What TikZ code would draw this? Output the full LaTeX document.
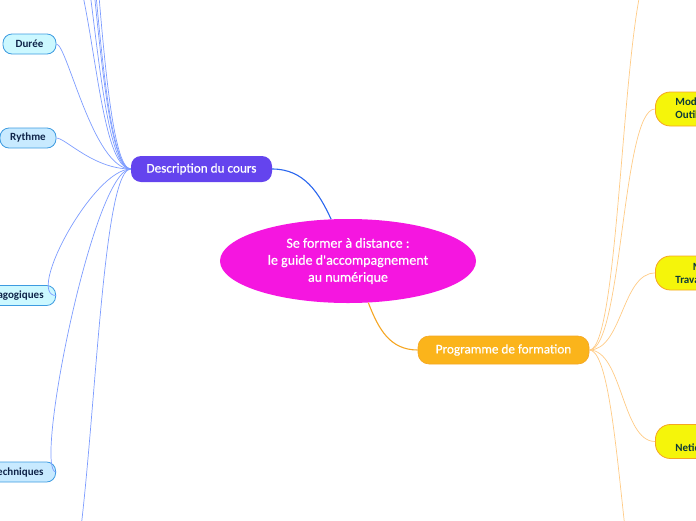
\documentclass[tikz,border=0pt]{standalone}
\usepackage{fontspec}
\setmainfont{Carlito}
\newfontfamily\medfont{Carlito}[FakeBold=0.5]
\usetikzlibrary{shapes.geometric}
\definecolor{cMag}{HTML}{F516E0}
\definecolor{cPur}{HTML}{6444EE}
\definecolor{cOrg}{HTML}{FBB41B}
\definecolor{cOrgB}{HTML}{F5A623}
\definecolor{cYel}{HTML}{F5F50A}
\definecolor{cCyan}{HTML}{CCF8FF}
\definecolor{cSky}{HTML}{C8EAFF}
\definecolor{cBord}{HTML}{3D9BE0}
\definecolor{cNavy}{HTML}{10254A}
\definecolor{cDark}{HTML}{0D3A3A}
\definecolor{cLB}{HTML}{7D9CFF}
\definecolor{cBlue}{HTML}{2A66EE}
\definecolor{cLO}{HTML}{FFCB85}
\begin{document}
\begin{tikzpicture}[x=1pt,y=-1pt,
  mainnode/.style={ellipse, fill=cMag, text=white, minimum width=256pt, minimum height=84pt, inner sep=0pt, align=center, font=\medfont\fontsize{14}{17}\selectfont},
  topbox/.style={rounded corners=10pt, text=white, inner sep=0pt, font=\medfont\fontsize{13.2}{15}\selectfont},
  leafbox/.style={draw=cBord, line width=0.8pt, rounded corners=9pt, minimum height=20pt, inner ysep=0pt, inner xsep=12pt, text=cNavy, font=\bfseries\fontsize{11}{12}\selectfont},
  ybox/.style={fill=cYel, draw=cOrgB, line width=0.8pt, rounded corners=15pt, minimum height=34pt, inner ysep=0pt, inner xsep=20pt, anchor=west, text=cDark, font=\bfseries\fontsize{11}{13}\selectfont},
  lk/.style={draw=cLB, line width=0.7pt},
  ok/.style={draw=cLO, line width=0.7pt}]
\useasboundingbox (0,0) rectangle (696,520);
\clip (0,0) rectangle (696,520);

% nodes
\node[mainnode] (main) at (348,261) {Se former à distance :\\le guide d'accompagnement\\au numérique};
\node[topbox, fill=cPur, minimum width=141pt, minimum height=26pt] (desc) at (201.5,169) {Description du cours};
\node[topbox, fill=cOrg, draw=cOrgB, line width=0.6pt, minimum width=171pt, minimum height=28pt, rounded corners=11pt] (prog) at (503.5,350) {Programme de formation};

\node[leafbox, fill=cCyan, minimum width=53pt, inner xsep=0pt] (duree) at (29.5,44) {Durée};
\node[leafbox, fill=cSky, minimum width=56pt, inner xsep=0pt] (rythme) at (28,138) {Rythme};
\node[leafbox, fill=cCyan, anchor=east] (ped) at (56,295.5) {Modalités pédagogiques};
\node[leafbox, fill=cSky, anchor=east] (tech) at (56,472) {Prérequis techniques};

\node[ybox, align=left] (mod) at (655,109) {Module 1 :\\Outils numériques};
\node[ybox, align=center] (trav) at (655,273) {Module 2 :\\Travail collaboratif};
\node[ybox, align=center] (neti) at (655,441.5) {Module 3 :\\Netiquette et communication};

% off-canvas ends
\coordinate (u1) at (56,-60);
\coordinate (u2) at (56,-130);
\coordinate (u3) at (56,-200);
\coordinate (u4) at (56,-235);
\coordinate (u5) at (56,-320);
\coordinate (d1) at (56,620);
\coordinate (r1) at (655,-40);
\coordinate (r2) at (655,654);

% main connectors
\draw[cBlue, line width=1.1pt] (desc.east) .. controls +(32,0) and +(-12,-26) .. (main.112);
\draw[cOrgB, line width=1.1pt] (main.-64) .. controls +(10,26) and +(-28,0) .. (prog.west);

% left connectors
\foreach \t in {duree,rythme,ped,tech,u1,u2,u3,u4,u5,d1}{
  \draw[lk] (desc.west) .. controls +(-37.5,0) and +(37.5,0) .. (\t);
}
% right connectors
\foreach \t in {mod,trav,neti}{
  \draw[ok] (prog.east) .. controls +(33,0) and +(-33,0) .. (\t.west);
}
\foreach \t in {r1,r2}{
  \draw[ok] (prog.east) .. controls +(33,0) and +(-33,0) .. (\t);
}
\end{tikzpicture}
\end{document}
